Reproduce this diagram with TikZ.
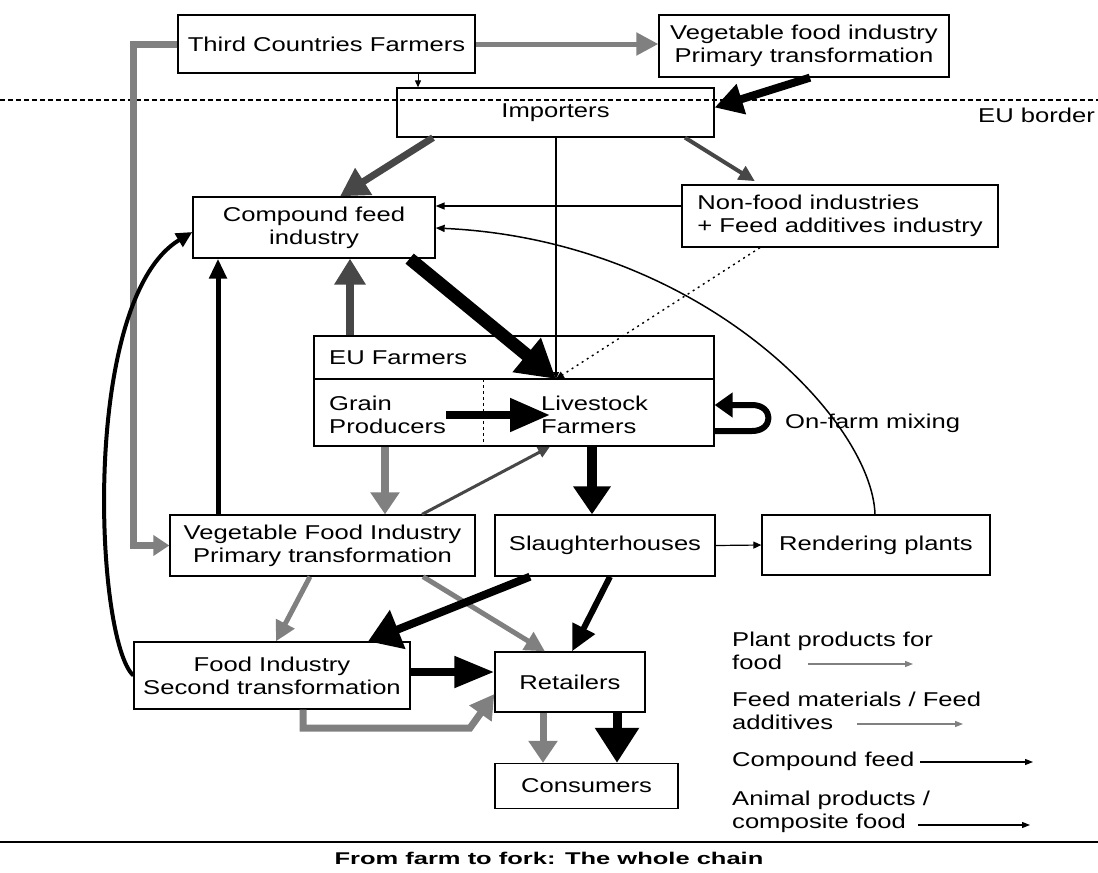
\documentclass[tikz,border=0pt]{standalone}
\usepackage{fontspec}
\setmainfont{Liberation Sans}[FakeStretch=1.28]
\newfontfamily\capfont{Liberation Sans}[FakeStretch=1.5]
\usetikzlibrary{arrows.meta,calc}
\newcommand\boxfont{\fontsize{20}{23}\selectfont}
\colorlet{gry}{black!50}
\colorlet{dgry}{black!72}
\tikzset{
  box/.style={draw, line width=1.3pt, inner sep=2pt, align=center, font=\boxfont},
  lbl/.style={inner sep=0pt, anchor=west, align=left, font=\boxfont},
  ah/.style 2 args={-{Triangle[length=#1pt,width=#2pt]}},
  gline/.style={draw=gry, line width=#1, line cap=butt},
  bline/.style={draw=black, line width=#1, line cap=butt},
}
\begin{document}
\begin{tikzpicture}[x=1pt,y=-1pt]
\useasboundingbox (0,0) rectangle (1098,873);

% EU border
\draw[dash pattern=on 5pt off 3pt, line width=1.2pt] (0,100) -- (1098,100);
\node[lbl] (eub) at (978,115) {EU border};

% boxes
\node[box, minimum width=297pt, minimum height=58pt] (tcf) at (326.5,44) {Third Countries Farmers};
\node[box, minimum width=290pt, minimum height=62pt] (vfi) at (804,46) {Vegetable food industry\\Primary transformation};
\node[box, minimum width=317pt, minimum height=49pt] (imp) at (555.5,112.5) {Importers};
\node[box, minimum width=242pt, minimum height=61pt] (cfi) at (314,227.5) {Compound feed\\industry};
\node[box, minimum width=316pt, minimum height=62pt] (nfi) at (840,216) {\begin{tabular}{@{}l@{}}Non-food industries\\+ Feed additives industry\end{tabular}};
\node[box, minimum width=400pt, minimum height=110pt] (euf) at (514,391) {};
\draw[line width=1.3pt] (euf.west |- 0,379) -- (euf.east |- 0,379);
\draw[dashed, line width=1pt] (483,379) -- (483,0 |- euf.south);
\node[lbl] (eufl) at (329,358) {EU Farmers};
\node[lbl] (grain) at (329,415) {Grain\\Producers};
\node[lbl] (live) at (541,415) {Livestock\\Farmers};
\coordinate (livetop) at (556,379);
\node[box, minimum width=305pt, minimum height=61pt] (vfm) at (322.5,545.5) {Vegetable Food Industry\\Primary transformation};
\node[box, minimum width=220pt, minimum height=61pt] (slh) at (605,545.5) {Slaughterhouses};
\node[box, minimum width=228pt, minimum height=60pt] (rnd) at (876,545) {Rendering plants};
\node[box, minimum width=276pt, minimum height=67pt] (fid) at (272,675.5) {Food Industry\\Second transformation};
\node[box, minimum width=150pt, minimum height=60pt] (ret) at (570,682) {Retailers};
\node[box, minimum width=183pt, minimum height=45pt] (con) at (586.5,786) {Consumers};
\node[lbl] (ofm) at (785,423) {On-farm mixing};

% connectors
\draw[gline=5pt, ah={22}{22}] (tcf.east) -- (tcf.east -| vfi.west);
\draw[bline=1pt, ah={7}{6}] (418,0 |- tcf.south) -- (418,0 |- imp.north);
\draw[bline=8pt, ah={28}{30}] (810,0 |- vfi.south) -- ([yshift=5pt]imp.east);
\draw[draw=dgry, line width=7pt, ah={28}{30}] (433,0 |- imp.south) -- (340,0 |- cfi.north);
\draw[draw=dgry, line width=4pt, ah={16}{15}, shorten >=6pt] (685,0 |- imp.south) -- (760,0 |- nfi.north);
\draw[bline=1.2pt, ah={7}{6}] (556,0 |- imp.south) -- (livetop);
\draw[bline=1.5pt, ah={9}{7}] (nfi.west |- 0,206) -- (cfi.east |- 0,206);
\draw[bline=1.5pt, ah={9}{7}] (875,0 |- rnd.north) .. controls (872,420) and (700,240) .. (cfi.east |- 0,228);
\draw[bline=1.4pt, dash pattern=on 2pt off 4pt, ah={8}{7}] (760,0 |- nfi.south) -- (livetop);
\draw[bline=13pt, ah={38}{42}] ([xshift=-26pt]cfi.south east) -- (livetop);
\draw[draw=dgry, line width=8pt, ah={26}{30}] (350,0 |- euf.north) -- (350,0 |- cfi.south);
\draw[bline=5pt, ah={20}{17}] (218,0 |- vfm.north) -- (218,0 |- cfi.south);
\draw[gline=7pt, line join=miter, ah={16}{20}] (tcf.west) -| (133,0 |- vfm.west) -- (vfm.west);
\draw[bline=4pt, ah={16}{15}] (fid.west) .. controls (95,640) and (80,300) .. (cfi.west |- 0,232);
\draw[bline=8pt, ah={40}{32}] (grain.east) -- ([xshift=9pt]live.west);
\draw[bline=6pt, line join=round, ah={18}{24}] (euf.east |- 0,431) -- (752,431) .. controls (774,431) and (774,405) .. (752,405) -- (euf.east |- 0,405);
\draw[draw=dgry, line width=3pt, ah={12}{11}] (422,0 |- vfm.north) -- (550,0 |- euf.south);
\draw[gline=8pt, ah={22}{28}] (385,0 |- euf.south) -- (385,0 |- vfm.north);
\draw[bline=10pt, ah={28}{36}] (592,0 |- euf.south) -- (592,0 |- slh.north);
\draw[bline=1.2pt, ah={8}{7}] (slh.east) -- (rnd.west);
\draw[gline=5pt, ah={20}{20}] (310,0 |- vfm.south) -- (276,0 |- fid.north);
\draw[gline=5pt, ah={20}{20}] (423,0 |- vfm.south) -- (545,0 |- ret.north);
\draw[bline=8pt, ah={32}{40}] (530,0 |- slh.south) -- (368,0 |- fid.north);
\draw[bline=6pt, ah={26}{24}] (610,0 |- slh.south) -- (572,0 |- ret.north);
\draw[bline=8pt, ah={40}{30}] (fid.east |- 0,672) -- (ret.west |- 0,672);
\draw[gline=7pt, line join=miter, ah={24}{26}] (303,0 |- fid.south) -- (303,728) -- (470,728) -- ([yshift=-12pt]ret.west);
\draw[gline=7pt, ah={22}{28}] (543,0 |- ret.south) -- (543,0 |- con.north);
\draw[bline=9pt, ah={35}{42}] (617,0 |- ret.south) -- (617,0 |- con.north);

% legend
\node[lbl] (lg1) at (732,651) {Plant products for\\food};
\node[lbl] (lg2) at (732,711) {Feed materials / Feed\\additives};
\node[lbl] (lg3) at (732,761) {Compound feed};
\node[lbl] (lg4) at (732,812) {Animal products /\\composite food};
\coordinate (l1a) at (808,664); \coordinate (l1b) at (913,664);
\coordinate (l2a) at (857,724); \coordinate (l2b) at (963,724);
\coordinate (l3a) at (920,762); \coordinate (l3b) at (1033,762);
\coordinate (l4a) at (918,825); \coordinate (l4b) at (1030,825);
\draw[draw=gry, line width=1.2pt, ah={8}{6}] (l1a) -- (l1b);
\draw[draw=gry, line width=1.2pt, ah={8}{6}] (l2a) -- (l2b);
\draw[draw=black, line width=1.2pt, ah={8}{6}] (l3a) -- (l3b);
\draw[draw=black, line width=1.2pt, ah={8}{6}] (l4a) -- (l4b);

% caption
\draw[line width=1.5pt] (0,842) -- (1098,842);
\node[font=\capfont\bfseries\fontsize{17}{20}\selectfont, inner sep=0pt] (cap) at (549,858) {From farm to fork: The whole chain};
\end{tikzpicture}
\end{document}
